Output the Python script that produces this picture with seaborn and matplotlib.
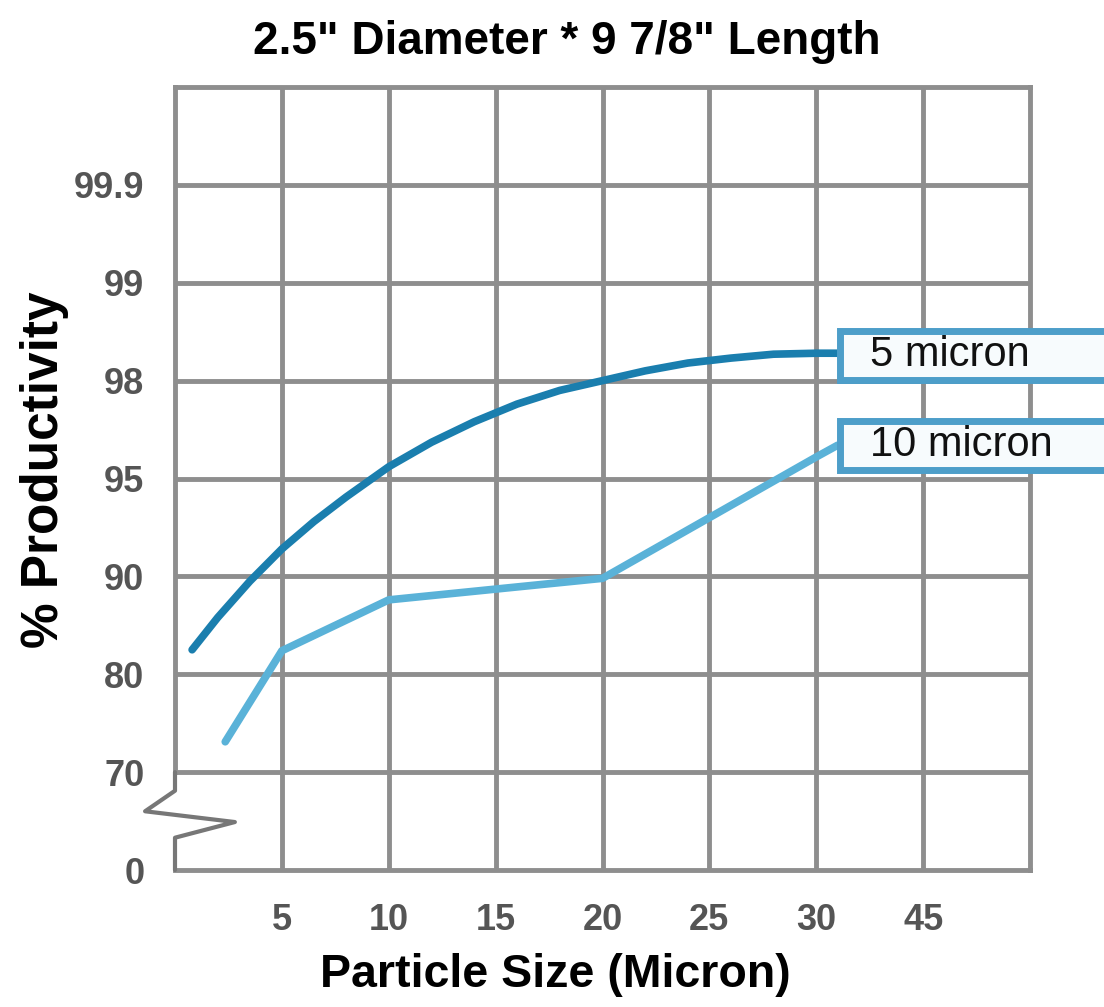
import numpy as np
import pandas as pd
import matplotlib
matplotlib.use("Agg")
import matplotlib.pyplot as plt
import seaborn as sns
from matplotlib.patches import Rectangle

sns.set_theme(style="white")
plt.rcParams['font.family'] = ['Liberation Sans', 'DejaVu Sans']

# axis tick labels (grid is evenly spaced, labels are not)
x_labels = ["5", "10", "15", "20", "25", "30", "45"]
y_labels = ["0", "70", "80", "90", "95", "98", "99", "99.9"]

# curves (x/y in grid cells)
x_5um = [0.16, 0.4, 0.7, 1.0, 1.3, 1.6, 2.0, 2.4, 2.8, 3.2, 3.6, 4.0, 4.4, 4.8, 5.2, 5.6, 6.0, 6.2]
y_5um = [2.25, 2.58, 2.95, 3.28, 3.56, 3.81, 4.12, 4.37, 4.58, 4.76, 4.9, 5.0, 5.1, 5.18, 5.23, 5.27, 5.28, 5.28]
x_10um = [0.47, 1.0, 2.0, 3.0, 4.0, 5.0, 6.0, 6.2]
y_10um = [1.31, 2.24, 2.76, 2.87, 2.98, 3.6, 4.22, 4.34]

series_names = ["5 micron", "10 micron"]
colors = ["#1a7eae", "#5ab2d8"]

df = pd.concat([
    pd.DataFrame({"x": x_5um, "y": y_5um, "series": series_names[0]}),
    pd.DataFrame({"x": x_10um, "y": y_10um, "series": series_names[1]}),
])

fig = plt.figure(figsize=(11.04, 10.07), dpi=100)
ax = fig.add_axes([175 / 1104, 137 / 1007, 855 / 1104, 783 / 1007])

grid_c = "#8e8e8e"
# grid lines
for gx in range(1, 8):
    ax.axvline(gx, color=grid_c, lw=3.5, zorder=1)
for gy in range(1, 8):
    ax.axhline(gy, color=grid_c, lw=3.5, zorder=1)

sns.lineplot(data=df, x="x", y="y", hue="series", palette=colors,
             sort=False, estimator=None, lw=5.5, legend=False, ax=ax, zorder=3)
for ln in ax.get_lines()[-2:]:
    ln.set_solid_capstyle("round")
    ln.set_solid_joinstyle("round")

ax.set_xlim(0, 8)
ax.set_ylim(0, 8)
ax.set_xticks(range(1, 8))
ax.set_xticklabels(x_labels)
ax.set_yticks(range(0, 8))
ax.set_yticklabels(y_labels)
ax.tick_params(length=0, labelsize=26, colors="#555555")
ax.tick_params(axis="x", pad=24)
ax.tick_params(axis="y", pad=22)
for lab in ax.get_xticklabels() + ax.get_yticklabels():
    lab.set_fontweight("bold")
ax.set_xlabel("")
ax.set_ylabel("")

for s in ax.spines.values():
    s.set_color(grid_c)
    s.set_linewidth(3.5)
ax.spines["left"].set_bounds(1, 8)

# axis break zigzag at the bottom-left
zx = [0, 0, -0.28, 0.56, 0, 0]
zy = [1, 0.81, 0.6, 0.49, 0.33, 0]
ax.plot(zx, zy, color="#777777", lw=3, clip_on=False, zorder=4)

# label boxes
box_y = [5.26, 4.34]
for name, by in zip(series_names, box_y):
    ax.add_patch(Rectangle((6.22, by - 0.25), 3.0, 0.5, facecolor="#f7fbfd",
                           edgecolor="#4d9ec9", lw=5, clip_on=False, zorder=5))
    ax.text(6.5, by, name, fontsize=30, color="#111111", va="center",
            ha="left", zorder=6, clip_on=False)

fig.text(567 / 1104, 1 - 42 / 1007, "2.5\" Diameter * 9 7/8\" Length",
         ha="center", va="center", fontsize=33, fontweight="bold", color="black")
fig.text(45 / 1104, 1 - 470 / 1007, "% Productivity", rotation=90,
         ha="center", va="center", fontsize=37, fontweight="bold", color="black")
fig.text(555 / 1104, 1 - 975 / 1007, "Particle Size (Micron)",
         ha="center", va="center", fontsize=33.5, fontweight="bold", color="black")

fig.savefig("out.png", dpi=100, facecolor="white")
